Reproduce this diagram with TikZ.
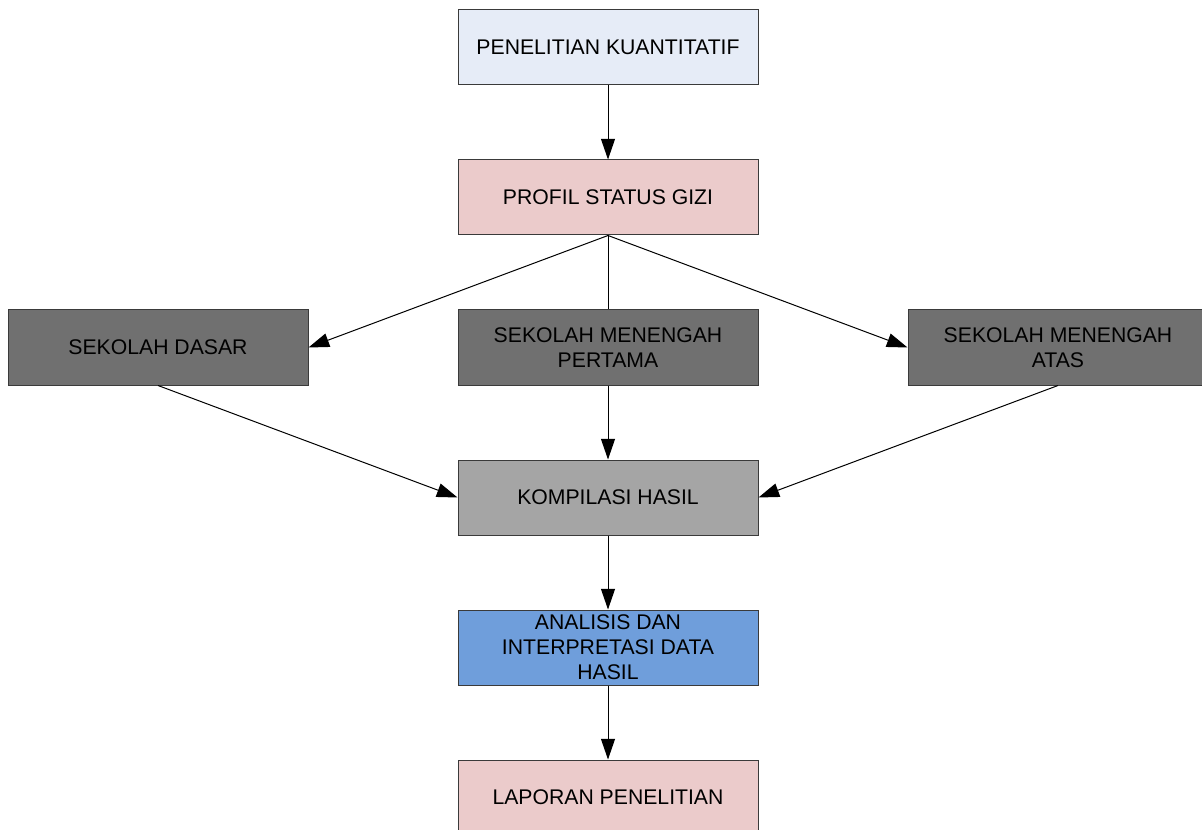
\documentclass[tikz,border=0pt]{standalone}
\usepackage{fontspec}
\setmainfont{Liberation Sans}
\usetikzlibrary{arrows.meta}
\definecolor{boxEdge}{HTML}{3A3A3A}
\definecolor{quantBlue}{HTML}{E6ECF7}
\definecolor{reportPink}{HTML}{EBCBCB}
\definecolor{schoolGray}{HTML}{707070}
\definecolor{compileGray}{HTML}{A5A5A5}
\definecolor{analysisBlue}{HTML}{6F9EDB}
\tikzset{
  flowbox/.style={draw=boxEdge,line width=0.75pt,minimum width=225pt,
    minimum height=56.25pt,inner sep=0pt,align=center,
    font=\fontsize{15.9}{18.8}\selectfont},
  flowline/.style={line width=0.75pt,black},
  flowarrow/.style={flowline,-{Triangle[length=15.5pt,width=10.5pt]}}
}

\begin{document}
\begin{tikzpicture}[x=0.75pt,y=-0.75pt]
\useasboundingbox (0,0) rectangle (1202,830);

% Main column of boxes.
\node[flowbox,fill=quantBlue] (kuant) at (608,47.5) {PENELITIAN KUANTITATIF};
\node[flowbox,fill=reportPink] (gizi) at (608,197.5) {PROFIL STATUS GIZI};

% The three school levels.
\node[flowbox,fill=schoolGray] (sd) at (158,347.5) {SEKOLAH DASAR};
\node[flowbox,fill=schoolGray] (smp) at (608,347.5) {SEKOLAH MENENGAH\\PERTAMA};
\node[flowbox,fill=schoolGray] (sma) at (1058,347.5) {SEKOLAH MENENGAH\\ATAS};

\node[flowbox,fill=compileGray] (hasil) at (608,497.5) {KOMPILASI HASIL};
\node[flowbox,fill=analysisBlue] (analisis) at (608,647.5)
  {ANALISIS DAN\\INTERPRETASI DATA\\HASIL};
\node[flowbox,fill=reportPink] (laporan) at (608,797.5) {LAPORAN PENELITIAN};

% Connectors.
\draw[flowarrow] (kuant.south) -- (gizi.north);
\draw[flowarrow] (gizi.south) -- (sd.east);
\draw[flowline] (gizi.south) -- (smp.north);
\draw[flowarrow] (gizi.south) -- (sma.west);
\draw[flowarrow] (sd.south) -- (hasil.west);
\draw[flowarrow] (smp.south) -- (hasil.north);
\draw[flowarrow] (sma.south) -- (hasil.east);
\draw[flowarrow] (hasil.south) -- (analisis.north);
\draw[flowarrow] (analisis.south) -- (laporan.north);

\end{tikzpicture}
\end{document}
